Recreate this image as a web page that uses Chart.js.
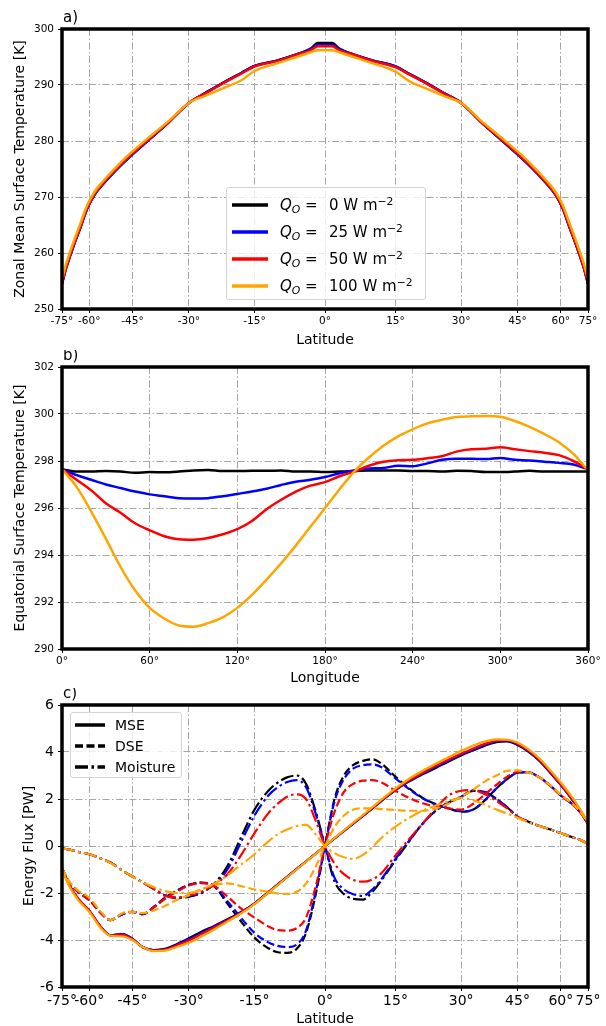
<!DOCTYPE html>
<html>
<head>
<meta charset="utf-8">
<script src="https://cdn.jsdelivr.net/npm/chart.js@4.4.1/dist/chart.umd.min.js"></script>
<style>
    html, body { margin: 0; padding: 0; background: #fff; }
    body { width: 606px; height: 1026px; position: relative; overflow: hidden; font-family: "DejaVu Sans", sans-serif; }
    canvas { position: absolute; left: 0; }
    .legend { position: absolute; box-sizing: border-box; background: rgba(255,255,255,0.8); border: 1px solid #d4d4d4; border-radius: 3px; }
    .row { position: absolute; left: 0; width: 100%; height: 18px; line-height: 18px; white-space: nowrap; color: #000; }
    .row svg { position: absolute; }
    .row span { position: absolute; }
    .sub { position: relative !important; font-size: 72%; top: 0.3em; }
    .sup { position: relative !important; font-size: 72%; top: -0.45em; }
</style>
</head>
<body>
<canvas id="chart-a" width="606" height="350" style="top:0px"></canvas>
<canvas id="chart-b" width="606" height="338" style="top:350px"></canvas>
<canvas id="chart-c" width="606" height="338" style="top:688px"></canvas>
<div class="legend" id="legend-a" style="left:226px;top:187px;width:200px;height:113px"></div>
<div class="legend" id="legend-c" style="left:70px;top:712px;width:112px;height:66px"></div>
<script>
// ---- shared
const q_values = [0, 25, 50, 100];
const q_colors = ['#000000', '#0000ff', '#ff0000', '#ffa500'];
const lat_ticks = [-75, -60, -45, -30, -15, 0, 15, 30, 45, 60, 75];

// ---- a) zonal mean surface temperature [K]
const lat_a = [-75, -72, -70, -67, -64, -61, -58, -55, -50, -46, -40, -35, -30, -26, -22, -18, -15, -10, -6, -3, -1.5,
    0, 1.5, 3, 6, 10, 15, 18, 22, 26, 30, 35, 40, 46, 50, 55, 58, 61, 64, 67, 70, 72, 75];
const tsurf_q0 = [254.5, 257.3, 259.0, 261.7, 264.5, 267.8, 270.3, 272.1, 274.9, 277.1, 280.4, 283.4, 286.8, 288.6, 290.4, 292.1, 293.4, 294.4, 295.45, 296.5, 297.5,
    297.5, 297.5, 296.5, 295.45, 294.4, 293.3, 292.0, 290.3, 288.5, 286.8, 283.4, 280.4, 277.1, 274.9, 272.1, 270.3, 267.8, 264.5, 261.7, 259.0, 257.3, 254.5];
const tsurf_q25 = [254.5, 257.3, 259.0, 261.7, 264.5, 267.8, 270.3, 272.1, 274.9, 277.1, 280.4, 283.4, 286.8, 288.6, 290.4, 292.1, 293.4, 294.4, 295.45, 296.4, 297.2,
    297.2, 297.2, 296.4, 295.45, 294.4, 293.3, 292.0, 290.3, 288.5, 286.8, 283.4, 280.4, 277.1, 274.9, 272.1, 270.3, 267.8, 264.5, 261.7, 259.0, 257.3, 254.5];
const tsurf_q50 = [254.6, 257.4, 259.1, 261.8, 264.6, 267.9, 270.4, 272.2, 275.0, 277.2, 280.5, 283.4, 286.8, 288.5, 290.3, 292.0, 293.3, 294.3, 295.4, 296.2, 296.9,
    296.9, 296.9, 296.2, 295.4, 294.3, 293.2, 291.9, 290.2, 288.4, 286.8, 283.4, 280.5, 277.2, 275.0, 272.2, 270.4, 267.9, 264.6, 261.8, 259.1, 257.4, 254.6];
const tsurf_q100 = [255.3, 258.0, 259.7, 262.4, 265.2, 268.4, 270.8, 272.6, 275.4, 277.6, 280.8, 283.6, 286.8, 288.1, 289.4, 290.8, 292.5, 293.9, 295.0, 295.85, 296.2,
    296.2, 296.2, 295.85, 295.0, 293.9, 292.4, 290.7, 289.3, 288.0, 286.8, 283.6, 280.8, 277.6, 275.4, 272.6, 270.8, 268.4, 265.2, 262.4, 259.7, 258.0, 255.3];

// ---- b) equatorial surface temperature [K]
const lon_b = [0, 10, 20, 30, 40, 50, 60, 70, 80, 90, 100, 110, 120, 130, 140, 150, 160, 170, 180,
    190, 200, 210, 220, 230, 240, 250, 260, 270, 280, 290, 300, 310, 320, 330, 340, 350, 360];
const teq_q0 = [297.65, 297.55, 297.55, 297.57, 297.55, 297.5, 297.53, 297.52, 297.55, 297.6, 297.62, 297.57, 297.57, 297.58, 297.58, 297.6, 297.55, 297.55, 297.53,
    297.55, 297.57, 297.6, 297.6, 297.6, 297.57, 297.57, 297.55, 297.58, 297.57, 297.53, 297.53, 297.55, 297.58, 297.55, 297.55, 297.55, 297.55];
const teq_q25 = [297.65, 297.4, 297.2, 297.0, 296.85, 296.7, 296.58, 296.5, 296.42, 296.4, 296.42, 296.5, 296.6, 296.7, 296.82, 296.98, 297.12, 297.2, 297.32,
    297.48, 297.6, 297.68, 297.7, 297.8, 297.78, 297.9, 298.05, 298.1, 298.1, 298.08, 298.13, 298.05, 298.02, 297.97, 297.92, 297.85, 297.65];
const teq_q50 = [297.65, 297.2, 296.75, 296.2, 295.8, 295.35, 295.05, 294.8, 294.67, 294.65, 294.72, 294.88, 295.1, 295.45, 295.95, 296.35, 296.7, 296.95, 297.1,
    297.35, 297.55, 297.8, 297.97, 298.03, 298.05, 298.12, 298.2, 298.4, 298.5, 298.52, 298.58, 298.5, 298.42, 298.35, 298.25, 298.0, 297.65];
const teq_q100 = [297.65, 296.9, 295.85, 294.7, 293.5, 292.5, 291.75, 291.3, 291.0, 290.95, 291.1, 291.35, 291.75, 292.3, 292.95, 293.65, 294.4, 295.2, 296.0,
    296.8, 297.55, 298.15, 298.65, 299.05, 299.35, 299.6, 299.75, 299.87, 299.9, 299.92, 299.88, 299.7, 299.45, 299.15, 298.8, 298.3, 297.6];

// ---- c) northward energy flux [PW]
const lat_c = [-75, -70, -65, -60, -55, -52, -48, -45, -42, -39, -36, -33, -30, -27, -24, -21, -18, -15, -12, -10, -8, -6, -4, -2, 0,
    2, 4, 6, 8, 10, 12, 15, 18, 21, 24, 27, 30, 33, 36, 39, 42, 45, 48, 52, 56, 60, 65, 70, 75];
const mse_q0 = [-0.95, -1.65, -2.25, -2.75, -3.5, -3.8, -3.75, -3.95, -4.3, -4.43, -4.38, -4.18, -3.93, -3.65, -3.4, -3.12, -2.82, -2.44, -1.96, -1.63, -1.31, -0.98, -0.66, -0.33, 0,
    0.32, 0.64, 0.96, 1.28, 1.6, 1.92, 2.38, 2.75, 3.05, 3.32, 3.6, 3.85, 4.07, 4.27, 4.42, 4.45, 4.3, 4.05, 3.62, 3.1, 2.6, 2.0, 1.45, 0.95];
const mse_q25 = [-0.95, -1.65, -2.25, -2.75, -3.5, -3.8, -3.75, -3.95, -4.3, -4.44, -4.4, -4.2, -3.97, -3.7, -3.43, -3.14, -2.83, -2.45, -1.97, -1.64, -1.31, -0.98, -0.66, -0.33, 0,
    0.32, 0.64, 0.96, 1.28, 1.6, 1.93, 2.39, 2.77, 3.08, 3.36, 3.63, 3.88, 4.1, 4.3, 4.45, 4.47, 4.32, 4.06, 3.63, 3.1, 2.6, 2.0, 1.46, 0.95];
const mse_q50 = [-0.95, -1.65, -2.25, -2.75, -3.5, -3.8, -3.78, -3.97, -4.32, -4.45, -4.42, -4.23, -4.02, -3.75, -3.47, -3.17, -2.85, -2.46, -1.98, -1.65, -1.32, -0.99, -0.66, -0.33, 0,
    0.33, 0.65, 0.97, 1.29, 1.61, 1.94, 2.4, 2.79, 3.12, 3.41, 3.68, 3.93, 4.15, 4.35, 4.48, 4.5, 4.35, 4.1, 3.66, 3.14, 2.63, 2.03, 1.48, 0.97];
const mse_q100 = [-1.0, -1.7, -2.3, -2.8, -3.55, -3.82, -3.85, -4.0, -4.3, -4.47, -4.45, -4.3, -4.12, -3.85, -3.55, -3.22, -2.88, -2.47, -1.99, -1.66, -1.33, -1.0, -0.67, -0.34, 0,
    0.34, 0.67, 1.0, 1.32, 1.65, 1.98, 2.45, 2.86, 3.2, 3.5, 3.78, 4.05, 4.28, 4.45, 4.54, 4.53, 4.4, 4.15, 3.72, 3.2, 2.7, 2.1, 1.52, 1.0];
const dse_q0 = [-0.95, -1.55, -1.95, -2.3, -2.9, -3.15, -2.9, -2.8, -2.9, -2.6, -2.2, -1.9, -1.65, -1.56, -1.72, -2.45, -3.2, -3.9, -4.35, -4.52, -4.55, -4.38, -3.7, -2.1, 0,
    2.0, 3.0, 3.45, 3.62, 3.69, 3.5, 2.95, 2.45, 2.05, 1.78, 1.6, 1.46, 1.55, 1.95, 2.45, 2.85, 3.12, 3.14, 2.92, 2.55, 2.15, 1.8, 1.4, 0.95];
const dse_q25 = [-0.95, -1.55, -1.95, -2.3, -2.9, -3.15, -2.9, -2.8, -2.9, -2.6, -2.22, -1.92, -1.66, -1.57, -1.7, -2.35, -3.05, -3.7, -4.1, -4.25, -4.3, -4.2, -3.6, -2.0, 0,
    1.9, 2.85, 3.3, 3.44, 3.47, 3.35, 2.88, 2.42, 2.03, 1.77, 1.6, 1.47, 1.55, 1.95, 2.45, 2.85, 3.12, 3.14, 2.92, 2.55, 2.15, 1.8, 1.4, 0.95];
const dse_q50 = [-0.95, -1.55, -1.95, -2.3, -2.9, -3.15, -2.88, -2.8, -2.88, -2.62, -2.25, -1.95, -1.68, -1.58, -1.7, -2.15, -2.65, -3.05, -3.42, -3.58, -3.6, -3.5, -3.05, -1.75, 0,
    1.45, 2.3, 2.65, 2.78, 2.8, 2.7, 2.35, 2.05, 1.82, 1.68, 1.6, 1.55, 1.8, 2.2, 2.6, 2.95, 3.15, 3.14, 2.92, 2.55, 2.15, 1.8, 1.4, 0.95];
const dse_q100 = [-0.95, -1.5, -1.9, -2.2, -2.85, -3.15, -2.85, -2.8, -2.85, -2.75, -2.55, -2.3, -2.09, -1.85, -1.66, -1.59, -1.7, -1.85, -1.95, -2.02, -2.04, -1.95, -1.6, -0.9, 0,
    0.8, 1.3, 1.55, 1.6, 1.6, 1.57, 1.53, 1.5, 1.5, 1.6, 1.8, 2.1, 2.4, 2.75, 3.0, 3.2, 3.22, 3.15, 2.92, 2.57, 2.18, 1.82, 1.42, 0.97];
const moist_q0 = [-0.1, -0.15, -0.25, -0.35, -0.55, -0.7, -1.05, -1.3, -1.55, -1.82, -2.1, -2.22, -2.16, -2.0, -1.6, -0.85, 0.35, 1.55, 2.35, 2.7, 2.92, 3.0, 2.65, 1.5, 0,
    -1.5, -2.05, -2.25, -2.28, -1.95, -1.45, -0.6, 0.2, 0.95, 1.5, 1.85, 2.1, 2.35, 2.3, 2.0, 1.65, 1.25, 1.05, 0.85, 0.7, 0.55, 0.38, 0.25, 0.1];
const moist_q25 = [-0.1, -0.15, -0.25, -0.35, -0.55, -0.7, -1.05, -1.3, -1.55, -1.82, -2.1, -2.2, -2.14, -1.98, -1.62, -1.0, 0.15, 1.3, 2.15, 2.5, 2.72, 2.8, 2.5, 1.4, 0,
    -1.35, -1.85, -2.05, -2.12, -1.85, -1.4, -0.55, 0.22, 0.95, 1.5, 1.85, 2.1, 2.35, 2.3, 2.0, 1.65, 1.25, 1.05, 0.85, 0.7, 0.55, 0.38, 0.25, 0.1];
const moist_q50 = [-0.1, -0.15, -0.25, -0.35, -0.55, -0.7, -1.05, -1.3, -1.55, -1.82, -2.12, -2.2, -2.1, -1.95, -1.65, -1.2, -0.4, 0.55, 1.4, 1.8, 2.1, 2.2, 2.0, 1.1, 0,
    -0.75, -1.2, -1.45, -1.52, -1.42, -1.15, -0.4, 0.3, 0.95, 1.6, 2.15, 2.35, 2.38, 2.2, 1.92, 1.6, 1.25, 1.05, 0.85, 0.7, 0.55, 0.38, 0.25, 0.1];
const moist_q100 = [-0.1, -0.15, -0.25, -0.35, -0.55, -0.72, -1.05, -1.3, -1.55, -1.75, -1.92, -2.0, -2.0, -1.85, -1.6, -1.25, -0.8, -0.35, 0.2, 0.5, 0.7, 0.85, 0.9, 0.5, 0,
    -0.3, -0.48, -0.55, -0.38, -0.05, 0.35, 0.82, 1.2, 1.5, 1.72, 1.9, 2.05, 1.95, 1.75, 1.55, 1.38, 1.2, 1.03, 0.85, 0.7, 0.55, 0.38, 0.25, 0.1];

const flux_names = ['MSE', 'DSE', 'Moisture'];
const flux_dash = [[], [8, 3.5], [13, 3.5, 2.5, 3.5]];
const flux_series = [
    [mse_q0, dse_q0, moist_q0],
    [mse_q25, dse_q25, moist_q25],
    [mse_q50, dse_q50, moist_q50],
    [mse_q100, dse_q100, moist_q100],
];

// latitude axis is spaced like sin(latitude)
const deg = Math.PI / 180;
class SinLatScale extends Chart.LinearScale {
    getPixelForValue(value) {
        const a = Math.sin(this.min * deg), b = Math.sin(this.max * deg);
        return this.getPixelForDecimal((Math.sin(value * deg) - a) / (b - a));
    }
    getValueForPixel(pixel) {
        const a = Math.sin(this.min * deg), b = Math.sin(this.max * deg);
        return Math.asin(a + this.getDecimalForPixel(pixel) * (b - a)) / deg;
    }
}
SinLatScale.id = 'sinlat';
SinLatScale.defaults = Chart.LinearScale.defaults;
Chart.register(SinLatScale);

// black frame on top of the lines + panel letter
const frame_plugin = {
    id: 'frame',
    afterDatasetsDraw(chart, args, opts) {
        const { ctx, chartArea: a } = chart;
        ctx.save();
        ctx.lineWidth = 3.5;
        ctx.strokeStyle = '#000';
        ctx.strokeRect(a.left, a.top, a.right - a.left, a.bottom - a.top);
        ctx.fillStyle = '#000';
        ctx.font = '15px "DejaVu Sans"';
        ctx.textBaseline = 'alphabetic';
        ctx.textAlign = 'left';
        ctx.fillText(opts.label, a.left + 1, a.top - 7);
        ctx.restore();
    }
};

const font_family = '"DejaVu Sans", sans-serif';

function grid_opts() {
    return { color: '#a6a6a6', lineWidth: 1, tickColor: '#000', tickLength: 4, tickWidth: 1, tickBorderDash: [] };
}
function border_opts() {
    return { display: false, dash: [7, 2.5, 1.5, 2.5] };
}

function x_axis(kind, tick_size, height, title_pad) {
    let axis = {
        grid: grid_opts(),
        border: border_opts(),
        afterFit: s => { s.height = height; },
        ticks: { autoSkip: false, maxRotation: 0, minRotation: 0, color: '#000', padding: 2,
            font: { family: font_family, size: tick_size }, callback: v => v + '°' },
        title: { display: true, text: kind == 'lat' ? 'Latitude' : 'Longitude', color: '#000',
            font: { family: font_family, size: 14, lineHeight: 1 }, padding: { top: 0, bottom: title_pad } },
    };
    if (kind == 'lat') {
        axis.type = 'sinlat';
        axis.min = -75;
        axis.max = 75;
        axis.afterBuildTicks = s => { s.ticks = lat_ticks.map(v => ({ value: v })); };
    }
    else {
        axis.type = 'linear';
        axis.min = 0;
        axis.max = 360;
        axis.ticks.stepSize = 60;
    }
    return axis;
}

function y_axis(min, max, step, text, tick_size, title_pad) {
    return {
        type: 'linear', min: min, max: max,
        grid: grid_opts(),
        border: border_opts(),
        afterFit: s => { s.width = 62; },
        ticks: { stepSize: step, color: '#000', padding: 4, font: { family: font_family, size: tick_size } },
        title: { display: true, text: text, color: '#000',
            font: { family: font_family, size: 14, lineHeight: 1 }, padding: { top: title_pad, bottom: 0 } },
    };
}

function to_xy(xs, ys) {
    return xs.map((x, i) => ({ x: x, y: ys[i] }));
}

function base_options(label, top, x, y) {
    return {
        responsive: false,
        animation: false,
        events: [],
        layout: { padding: { top: top, right: 18, left: 0, bottom: 0 } },
        elements: { point: { radius: 0 }, line: { cubicInterpolationMode: 'monotone' } },
        scales: { x: x, y: y },
        plugins: { legend: { display: false }, tooltip: { enabled: false }, frame: { label: label } },
    };
}

// a)
const tsurf = [tsurf_q0, tsurf_q25, tsurf_q50, tsurf_q100];
new Chart(document.getElementById('chart-a'), {
    type: 'line',
    data: {
        datasets: tsurf.map((t, i) => ({
            data: to_xy(lat_a, t), borderColor: q_colors[i], borderWidth: 2.5, order: 10 - i
        }))
    },
    options: base_options('a)', 29, x_axis('lat', 10.5, 41, 3),
        y_axis(250, 300, 10, 'Zonal Mean Surface Temperature [K]', 10.5, 13)),
    plugins: [frame_plugin]
});

// b)
const teq = [teq_q0, teq_q25, teq_q50, teq_q100];
new Chart(document.getElementById('chart-b'), {
    type: 'line',
    data: {
        datasets: teq.map((t, i) => ({
            data: to_xy(lon_b, t), borderColor: q_colors[i], borderWidth: 2.5, order: 10 - i
        }))
    },
    options: base_options('b)', 17, x_axis('lon', 10.5, 39, 3),
        y_axis(290, 302, 2, 'Equatorial Surface Temperature [K]', 10.5, 13)),
    plugins: [frame_plugin]
});

// c)
let flux_datasets = [];
flux_series.forEach((group, i) => {
    group.forEach((vals, k) => {
        flux_datasets.push({
            data: to_xy(lat_c, vals), borderColor: q_colors[i], borderWidth: 2.2,
            borderDash: flux_dash[k], order: 100 - flux_datasets.length
        });
    });
});
new Chart(document.getElementById('chart-c'), {
    type: 'line',
    data: { datasets: flux_datasets },
    options: base_options('c)', 17, x_axis('lat', 14, 39, 0),
        y_axis(-6, 6, 2, 'Energy Flux [PW]', 14, 22)),
    plugins: [frame_plugin]
});

// legends
function handle_svg(color, dash, width, left, top) {
    return `<svg width="${width}" height="8" style="left:${left}px;top:${top}px">` +
        `<line x1="0" y1="4" x2="${width}" y2="4" stroke="${color}" stroke-width="3.5" stroke-dasharray="${dash.join(' ')}"/></svg>`;
}

const legend_a = document.getElementById('legend-a');
q_values.forEach((q, i) => {
    const row = document.createElement('div');
    row.className = 'row';
    row.style.top = (8 + 27 * i) + 'px';
    row.style.fontSize = '15px';
    row.innerHTML = handle_svg(q_colors[i], [], 36, 5, 5) +
        `<span style="left:53px"><i>Q</i><i class="sub">O</i> =</span>` +
        `<span style="left:102px">${q} W m<span class="sup">−2</span></span>`;
    legend_a.appendChild(row);
});

const legend_c = document.getElementById('legend-c');
flux_names.forEach((name, k) => {
    const row = document.createElement('div');
    row.className = 'row';
    row.style.top = (3 + 21 * k) + 'px';
    row.style.fontSize = '14px';
    row.innerHTML = handle_svg('#000', flux_dash[k], 30, 4, 5) + `<span style="left:44px">${name}</span>`;
    legend_c.appendChild(row);
});
</script>
</body>
</html>
